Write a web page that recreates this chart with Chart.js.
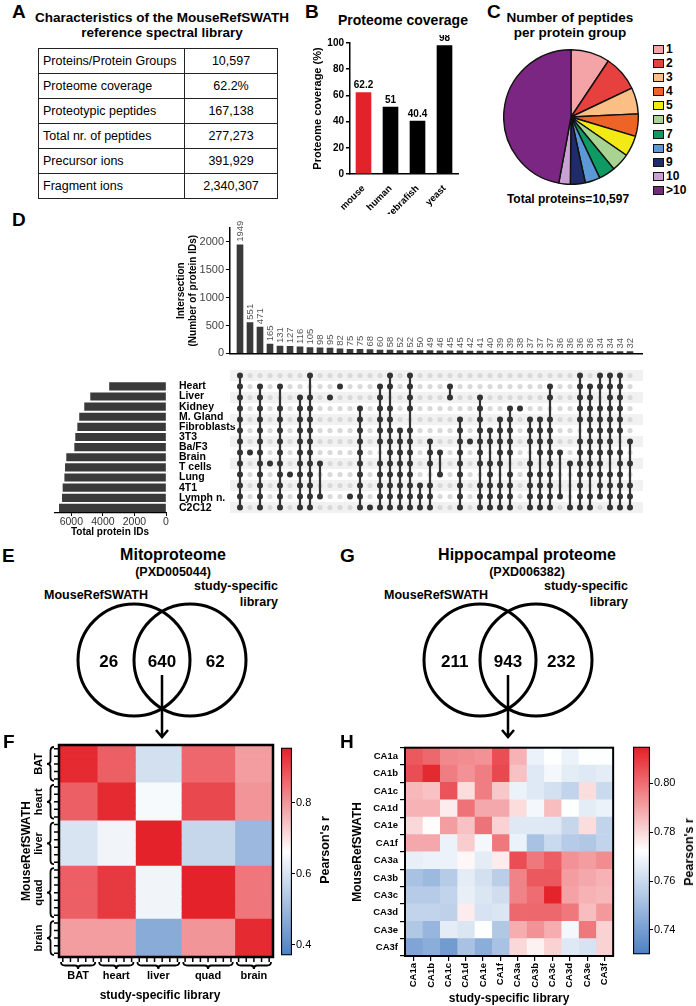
<!DOCTYPE html>
<html>
<head>
<meta charset="utf-8">
<script src="https://cdn.jsdelivr.net/npm/chart.js@4.4.1/dist/chart.umd.min.js"></script>
<style>
  body { margin: 0; background: #fff; font-family: "Liberation Sans", Arial, sans-serif; color: #000; }
  #page { position: relative; width: 696px; height: 1006px; overflow: hidden; }
  canvas { position: absolute; }
  .letter { position: absolute; font-weight: bold; font-size: 19px; line-height: 19px; }
  .ttl { position: absolute; font-weight: bold; text-align: center; white-space: nowrap; }
  .ctr { position: absolute; transform: translate(-50%, -50%); white-space: nowrap; font-weight: bold; }
  .rot { position: absolute; transform: translate(-50%, -50%) rotate(-90deg); white-space: nowrap; font-weight: bold; }
  #libTable { position: absolute; left: 38px; top: 48px; width: 240px; border-collapse: collapse; font-size: 12.5px; }
  #libTable td { border: 1.5px solid #222; height: 24px; padding: 0 4px; }
  #libTable td.v { text-align: center; width: 84px; }
  #pieLegend { position: absolute; left: 653px; top: 42px; font-weight: bold; font-size: 12px; }
  #pieLegend div { height: 14.1px; line-height: 14.1px; white-space: nowrap; }
  #pieLegend span { display: inline-block; width: 9px; height: 7px; border: 1.5px solid #111; margin-right: 2px; vertical-align: -1px; }
</style>
</head>
<body>
<div id="page">
  <!-- A -->
  <div class="letter" style="left:12px; top:2px;">A</div>
  <div class="ttl" style="left:30px; width:264px; top:10px; font-size:13.5px; line-height:15px;">Characteristics of the MouseRefSWATH<br>reference spectral library</div>
  <table id="libTable"></table>

  <!-- B -->
  <div class="letter" style="left:305px; top:2px;">B</div>
  <div class="ttl" style="left:333px; width:140px; top:12px; font-size:14px;">Proteome coverage</div>
  <canvas id="cvB" width="151" height="179" style="left:311px; top:35px;"></canvas>

  <!-- C -->
  <div class="letter" style="left:487px; top:2px;">C</div>
  <div class="ttl" style="left:490px; width:160px; top:10px; font-size:13.5px; line-height:15px;">Number of peptides<br>per protein group</div>
  <canvas id="cvC" width="136" height="136" style="left:503px; top:49px;"></canvas>
  <div id="pieLegend"></div>
  <div class="ctr" style="left:568px; top:199px; font-size:12px;">Total proteins=10,597</div>

  <!-- D -->
  <div class="letter" style="left:12px; top:210px;">D</div>
  <canvas id="cvDtop" width="468" height="147" style="left:175px; top:215px;"></canvas>
  <canvas id="cvDleft" width="182" height="168" style="left:54px; top:370px;"></canvas>
  <canvas id="cvDmat" width="413" height="143" style="left:230px; top:370px;"></canvas>

  <!-- E -->
  <div class="letter" style="left:2px; top:546px;">E</div>
  <div class="ctr" style="left:173px; top:555px; font-size:16px;">Mitoproteome</div>
  <div class="ctr" style="left:173px; top:572px; font-size:12.5px;">(PXD005044)</div>
  <div class="ctr" style="left:96px; top:595px; font-size:12.5px;">MouseRefSWATH</div>
  <div class="ttl" style="left:178px; width:100px; top:578px; font-size:12.5px; line-height:16px; text-align:right;">study-specific<br>library</div>
  <canvas id="cvE" width="324" height="142" style="left:0px; top:598px;"></canvas>

  <!-- G -->
  <div class="letter" style="left:340px; top:546px;">G</div>
  <div class="ctr" style="left:527px; top:555px; font-size:16px;">Hippocampal proteome</div>
  <div class="ctr" style="left:527px; top:572px; font-size:12.5px;">(PXD006382)</div>
  <div class="ctr" style="left:436px; top:595px; font-size:12.5px;">MouseRefSWATH</div>
  <div class="ttl" style="left:528px; width:100px; top:578px; font-size:12.5px; line-height:16px; text-align:right;">study-specific<br>library</div>
  <canvas id="cvG" width="324" height="142" style="left:346px; top:598px;"></canvas>

  <!-- F -->
  <canvas id="cvF" width="279" height="267" style="left:0px; top:739px;"></canvas>
  <canvas id="cvFbar" width="42" height="223" style="left:280px; top:740px;"></canvas>
  <div class="rot" style="left:325px; top:850px; font-size:12.5px;">Pearson's r</div>
  <div class="letter" style="left:3px; top:732px;">F</div>

  <!-- H -->
  <canvas id="cvH" width="268" height="266" style="left:350px; top:740px;"></canvas>
  <canvas id="cvHbar" width="53" height="223" style="left:632px; top:739px;"></canvas>
  <div class="rot" style="left:689px; top:852px; font-size:12.5px;">Pearson's r</div>
  <div class="letter" style="left:340px; top:732px;">H</div>
</div>

<script>
// ---------------- data ----------------
// A: library table
const libRows = ['Proteins/Protein Groups', 'Proteome coverage', 'Proteotypic peptides',
                 'Total nr. of peptides', 'Precursor ions', 'Fragment ions'];
const libValues = ['10,597', '62.2%', '167,138', '277,273', '391,929', '2,340,307'];

// B: proteome coverage
const speciesLabels = ['mouse', 'human', 'zebrafish', 'yeast'];
const coverageValues = [62.2, 51, 40.4, 98];
const coverageColors = ['#e3232a', '#000000', '#000000', '#000000'];

// C: peptides per protein group
const peptideLabels = ['1', '2', '3', '4', '5', '6', '7', '8', '9', '10', '>10'];
const peptideCounts = [992, 912, 668, 568, 530, 465, 421, 380, 380, 291, 4990];
const peptideColors = ['#f4a3a6', '#e6403f', '#fbbf86', '#ee6427', '#f3ea15', '#a9d391',
                       '#0f9a63', '#5c98d6', '#202c68', '#c9a1d4', '#7a2682'];

// D: upset plot
const cellTypes = ['Heart', 'Liver', 'Kidney', 'M. Gland', 'Fibroblasts', '3T3', 'Ba/F3',
                   'Brain', 'T cells', 'Lung', '4T1', 'Lymph n.', 'C2C12'];
const totalIDs = [3580, 4780, 5160, 5480, 5600, 5730, 5790, 6300, 6380, 6420, 6530, 6570, 6760];
const totalTicks = [0, 2000, 4000, 6000];
const intersectionSizes = [1949, 551, 471, 165, 131, 127, 116, 105, 98, 95, 82, 75, 75, 68, 60, 58,
                           52, 52, 50, 49, 46, 45, 45, 42, 41, 40, 39, 39, 38, 37, 37, 37, 36, 36,
                           36, 36, 34, 34, 34, 32];
const intersectionTicks = [0, 500, 1000, 1500, 2000];
// row indices (into cellTypes) that belong to each intersection
const intersectionSets = [
  [0,1,2,3,4,5,6,7,8,9,10,11,12], [7], [1,2,3,4,5,6,7,8,9,10,11,12], [8],
  [1,3,4,5,6,7,8,9,10,11,12], [9], [2,3,4,5,6,7,8,9,10,11,12], [0,2,3,4,5,6,7,8,9,10,11,12],
  [8,11], [2], [1], [11], [3,4,5,6,7,8,9,10,11,12], [12], [1,2,3,4,5,6,8,9,10,11,12],
  [0,1,3,4,5,6,7,8,9,10,11,12], [5,6,7,8,9,10,11,12], [0,1,2,3,5,6,7,8,9,10,11,12],
  [10,11,12], [6,7,8,10,11,12], [7,9], [1,2], [4,5,6,7,8,9,10,11,12], [6],
  [2,3,4,5,6,7,8,10,11,12], [5,6,8,9,10,11,12], [4,5,6,7,8,10,11,12], [3,4,5,6,7,9,10,11,12],
  [3], [4,5,6,8,9,10,11,12], [4,5,6,7,9,10,11,12], [1,2,4,5,6,7,8,9,10,11,12], [7,11], [8,12],
  [0,1,2,3,4,6,7,8,9,10,11,12], [1,2,3,4,5,6,7,8,9,11,12], [0,1,3,4,5,6,7,8,9,10,11],
  [0,1,2,3,4,5,6,7,9,10,11,12], [0,1,2,3,4,5,7,8,9,10,11,12], [6,8,10,11,12]
];

// E, G: Venn counts (left only, shared, right only)
const mitoCounts = [26, 640, 62];
const hippoCounts = [211, 943, 232];

// F: mitoproteome correlation, by tissue block
const fGroups = ['BAT', 'heart', 'liver', 'quad', 'brain'];
const fGroupSizes = [5, 5, 6, 7, 5];
const fBlocks = [
  [0.94, 0.87, 0.59, 0.86, 0.79],
  [0.87, 0.94, 0.65, 0.90, 0.80],
  [0.60, 0.64, 0.95, 0.57, 0.50],
  [0.87, 0.92, 0.64, 0.95, 0.84],
  [0.79, 0.79, 0.47, 0.80, 0.94]
];
const fMin = 0.37, fMax = 0.955;

// H: hippocampal correlation
const hLabels = ['CA1a', 'CA1b', 'CA1c', 'CA1d', 'CA1e', 'CA1f', 'CA3a', 'CA3b', 'CA3c', 'CA3d', 'CA3e', 'CA3f'];
const hValues = [
  [0.804, 0.801, 0.795, 0.794, 0.793, 0.806, 0.787, 0.768, 0.772, 0.768, 0.772, 0.772],
  [0.806, 0.813, 0.797, 0.793, 0.797, 0.807, 0.784, 0.765, 0.770, 0.766, 0.765, 0.766],
  [0.786, 0.784, 0.805, 0.779, 0.797, 0.783, 0.768, 0.765, 0.762, 0.758, 0.779, 0.760],
  [0.787, 0.787, 0.776, 0.799, 0.789, 0.789, 0.779, 0.770, 0.785, 0.772, 0.766, 0.768],
  [0.780, 0.773, 0.791, 0.784, 0.799, 0.781, 0.765, 0.765, 0.765, 0.759, 0.779, 0.758],
  [0.789, 0.789, 0.768, 0.782, 0.770, 0.798, 0.768, 0.752, 0.760, 0.755, 0.754, 0.758],
  [0.767, 0.768, 0.768, 0.774, 0.766, 0.776, 0.806, 0.798, 0.803, 0.793, 0.791, 0.794],
  [0.752, 0.749, 0.755, 0.766, 0.762, 0.756, 0.796, 0.804, 0.804, 0.791, 0.789, 0.787],
  [0.755, 0.755, 0.758, 0.767, 0.764, 0.761, 0.796, 0.800, 0.814, 0.790, 0.787, 0.786],
  [0.758, 0.758, 0.757, 0.776, 0.763, 0.764, 0.801, 0.801, 0.801, 0.798, 0.785, 0.792],
  [0.754, 0.748, 0.766, 0.764, 0.772, 0.754, 0.788, 0.793, 0.788, 0.770, 0.798, 0.781],
  [0.742, 0.745, 0.739, 0.752, 0.745, 0.752, 0.780, 0.775, 0.781, 0.765, 0.763, 0.781]
];
const hMin = 0.730, hMax = 0.815;

// ---------------- helpers ----------------
Chart.defaults.font.family = "'Liberation Sans', Arial, sans-serif";
Chart.defaults.color = '#000';
Chart.defaults.animation = false;
Chart.defaults.responsive = false;
Chart.defaults.plugins.legend.display = false;
Chart.defaults.plugins.tooltip.enabled = false;

const RED = [228, 30, 38], BLUE = [76, 128, 196];
function divColor(v, lo, hi) {
  let t = (v - (lo + hi) / 2) / ((hi - lo) / 2);
  t = Math.max(-1, Math.min(1, t));
  const end = t >= 0 ? RED : BLUE;
  const a = Math.abs(t);
  const c = end.map(e => Math.round(255 + (e - 255) * a));
  return 'rgb(' + c.join(',') + ')';
}

// A: table
document.getElementById('libTable').innerHTML =
  libRows.map((r, i) => '<tr><td>' + r + '</td><td class="v">' + libValues[i] + '</td></tr>').join('');

// C: legend
document.getElementById('pieLegend').innerHTML =
  peptideLabels.map((l, i) => '<div><span style="background:' + peptideColors[i] + '"></span>' + l + '</div>').join('');

// ---------------- B ----------------
const barValueLabels = {
  id: 'barValueLabels',
  afterDatasetsDraw(chart) {
    const ctx = chart.ctx;
    ctx.save();
    ctx.font = "bold 10px 'Liberation Sans', Arial";
    ctx.fillStyle = '#000';
    ctx.textAlign = 'center';
    ctx.textBaseline = 'bottom';
    chart.getDatasetMeta(0).data.forEach((bar, i) => {
      ctx.fillText(String(coverageValues[i]), bar.x, bar.y - 2);
    });
    ctx.restore();
  }
};

new Chart(document.getElementById('cvB'), {
  type: 'bar',
  data: {
    labels: speciesLabels,
    datasets: [{ data: coverageValues, backgroundColor: coverageColors, barThickness: 15 }]
  },
  options: {
    layout: { padding: { top: 6, right: 4 } },
    scales: {
      x: {
        grid: { display: false },
        border: { color: '#000', width: 1.5 },
        ticks: { minRotation: 45, maxRotation: 45, font: { size: 9.5, weight: 'bold' }, padding: 1 },
        afterFit: s => { s.height = 40; }
      },
      y: {
        min: 0, max: 100,
        ticks: { stepSize: 20, font: { size: 10, weight: 'bold' }, padding: 2 },
        grid: { drawOnChartArea: false, tickLength: 4, color: '#000', lineWidth: 1.5 },
        border: { color: '#000', width: 1.5 },
        title: { display: true, text: 'Proteome coverage (%)', font: { size: 11, weight: 'bold' }, padding: 0 },
        afterFit: s => { s.width = 39; }
      }
    }
  },
  plugins: [barValueLabels]
});

// ---------------- C ----------------
new Chart(document.getElementById('cvC'), {
  type: 'pie',
  data: {
    labels: peptideLabels,
    datasets: [{ data: peptideCounts, backgroundColor: peptideColors, borderColor: '#111', borderWidth: 1.4 }]
  },
  options: { layout: { padding: 0 } }
});

// ---------------- D: intersection bars ----------------
const intersectionLabels = {
  id: 'intersectionLabels',
  afterDatasetsDraw(chart) {
    const ctx = chart.ctx;
    ctx.save();
    ctx.font = "9.5px 'Liberation Sans', Arial";
    ctx.fillStyle = '#555';
    ctx.textAlign = 'left';
    ctx.textBaseline = 'middle';
    chart.getDatasetMeta(0).data.forEach((bar, i) => {
      ctx.save();
      ctx.translate(bar.x, bar.y - 3);
      ctx.rotate(-Math.PI / 2);
      ctx.fillText(String(intersectionSizes[i]), 0, 0);
      ctx.restore();
    });
    ctx.restore();
  }
};

new Chart(document.getElementById('cvDtop'), {
  type: 'bar',
  data: {
    datasets: [{
      data: intersectionSizes.map((v, i) => ({ x: i + 1, y: v })),
      backgroundColor: '#3a3a3a', barThickness: 6
    }]
  },
  options: {
    layout: { padding: { top: 13, bottom: 1 } },
    scales: {
      x: {
        type: 'linear', min: 0, max: 41.3, offset: false,
        grid: { display: false }, ticks: { display: false },
        border: { color: '#000', width: 1.5 },
        afterFit: s => { s.height = 2; }
      },
      y: {
        min: 0, max: 2250,
        afterBuildTicks: s => { s.ticks = intersectionTicks.map(v => ({ value: v })); },
        ticks: { font: { size: 11 }, color: '#444', padding: 2, callback: v => String(v) },
        grid: { drawOnChartArea: false, tickLength: 4, color: '#000' },
        border: { color: '#000', width: 1.5 },
        title: { display: true, text: ['Intersection', '(Number of protein IDs)'], font: { size: 10, weight: 'bold' }, padding: 0 },
        afterFit: s => { s.width = 55; }
      }
    }
  },
  plugins: [intersectionLabels]
});

// ---------------- D: set size bars ----------------
new Chart(document.getElementById('cvDleft'), {
  type: 'bar',
  data: {
    labels: cellTypes,
    datasets: [{ data: totalIDs, backgroundColor: '#3a3a3a', barThickness: 7.5 }]
  },
  options: {
    indexAxis: 'y',
    scales: {
      x: {
        reverse: true, min: 0, max: 7100,
        afterBuildTicks: s => { s.ticks = totalTicks.map(v => ({ value: v })); },
        ticks: { font: { size: 10.5 }, color: '#333', padding: 0, maxRotation: 0, callback: v => String(v) },
        grid: { drawOnChartArea: false, tickLength: 3, color: '#000' },
        border: { color: '#000', width: 1.2 },
        title: { display: true, text: 'Total protein IDs', font: { size: 10, weight: 'bold' }, padding: 0 },
        afterFit: s => { s.height = 25; }
      },
      y: {
        position: 'right',
        grid: { display: false }, border: { display: false },
        ticks: { font: { size: 10.5, weight: 'bold' }, padding: 5, autoSkip: false },
        afterFit: s => { s.width = 70; }
      }
    }
  }
});

// ---------------- D: membership matrix ----------------
const rowBands = {
  id: 'rowBands',
  beforeDatasetsDraw(chart) {
    const { ctx, chartArea: a, scales: { y } } = chart;
    ctx.save();
    ctx.fillStyle = '#f1f1f1';
    cellTypes.forEach((c, r) => {
      if (r % 2 === 0) {
        const t = y.getPixelForValue(r - 0.5), b = y.getPixelForValue(r + 0.5);
        ctx.fillRect(a.left, t, a.right - a.left, b - t);
      }
    });
    ctx.restore();
  }
};

const gridDots = [], memberDots = [], memberLinks = [];
intersectionSets.forEach((set, c) => {
  cellTypes.forEach((t, r) => gridDots.push({ x: c + 1, y: r }));
  set.forEach(r => memberDots.push({ x: c + 1, y: r }));
  memberLinks.push({ x: c + 1, y: Math.min(...set) }, { x: c + 1, y: Math.max(...set) }, { x: c + 1, y: null });
});

new Chart(document.getElementById('cvDmat'), {
  type: 'scatter',
  data: {
    datasets: [
      { data: memberDots, pointRadius: 3, backgroundColor: '#333', borderWidth: 0, order: 1 },
      { data: memberLinks, showLine: true, spanGaps: false, pointRadius: 0, borderColor: '#333', borderWidth: 2.2, order: 2 },
      { data: gridDots, pointRadius: 2.6, backgroundColor: '#d9d9d9', borderWidth: 0, order: 3 }
    ]
  },
  options: {
    layout: { autoPadding: false, padding: 0 },
    scales: {
      x: { type: 'linear', min: 0, max: 41.3, display: false },
      y: { type: 'linear', min: -0.5, max: 12.5, reverse: true, display: false }
    }
  },
  plugins: [rowBands]
});

// ---------------- E, G: Venn ----------------
const vennSetX = [-0.5, 0.5];
const vennRegionX = [-0.95, 0, 0.95];
function drawVenn(id, counts) {
  const vennText = {
    id: 'vennText',
    afterDatasetsDraw(chart) {
      const { ctx, scales: { x, y } } = chart;
      ctx.save();
      ctx.font = "bold 17px 'Liberation Sans', Arial";
      ctx.fillStyle = '#000';
      ctx.textAlign = 'center';
      ctx.textBaseline = 'middle';
      counts.forEach((n, i) => ctx.fillText(String(n), x.getPixelForValue(vennRegionX[i]), y.getPixelForValue(-0.05)));
      // arrow from the shared region down to the heatmap
      const ax = x.getPixelForValue(0), y0 = y.getPixelForValue(-0.27), y1 = chart.height - 3;
      ctx.strokeStyle = '#000';
      ctx.lineWidth = 2.5;
      ctx.beginPath();
      ctx.moveTo(ax, y0); ctx.lineTo(ax, y1);
      ctx.moveTo(ax - 6, y1 - 7); ctx.lineTo(ax, y1); ctx.lineTo(ax + 6, y1 - 7);
      ctx.stroke();
      ctx.restore();
    }
  };
  new Chart(document.getElementById(id), {
    type: 'scatter',
    data: {
      datasets: [{
        data: vennSetX.map(v => ({ x: v, y: 0 })),
        pointRadius: 56, pointBorderWidth: 3, borderColor: '#000', backgroundColor: 'rgba(0,0,0,0)', clip: false
      }]
    },
    options: {
      layout: { autoPadding: false, padding: 0 },
      scales: {
        x: { type: 'linear', min: -2.893, max: 2.893, display: false },
        y: { type: 'linear', min: -1.4286, max: 1.107, display: false }
      }
    },
    plugins: [vennText]
  });
}
drawVenn('cvE', mitoCounts);
drawVenn('cvG', hippoCounts);

// ---------------- colour bars ----------------
function colorBar(id, lo, hi, step, digits, width) {
  new Chart(document.getElementById(id), {
    type: 'bar',
    data: {
      labels: ['r'],
      datasets: [{
        data: [[lo, hi]],
        backgroundColor: c => {
          const a = c.chart.chartArea;
          if (!a) return '#fff';
          const g = c.chart.ctx.createLinearGradient(0, a.top, 0, a.bottom);
          g.addColorStop(0, 'rgb(' + RED.join(',') + ')');
          g.addColorStop(0.5, '#fff');
          g.addColorStop(1, 'rgb(' + BLUE.join(',') + ')');
          return g;
        },
        borderColor: '#000', borderWidth: 1.5, borderSkipped: false,
        barPercentage: 1, categoryPercentage: 1
      }]
    },
    options: {
      layout: { padding: { left: 1, top: 6, bottom: 6, right: 0 } },
      scales: {
        x: { display: false },
        y: {
          position: 'right', min: lo, max: hi,
          ticks: { stepSize: step, includeBounds: false, font: { size: 11 }, padding: 1, callback: v => v.toFixed(digits) },
          grid: { drawOnChartArea: false, tickLength: 3, color: '#000' },
          border: { display: false },
          afterFit: s => { s.width = width; }
        }
      }
    }
  });
}
colorBar('cvFbar', fMin, fMax, 0.2, 1, 30);
colorBar('cvHbar', hMin, hMax, 0.02, 2, 35);

// ---------------- F: block heatmap ----------------
const fRowGroup = [];
fGroupSizes.forEach((n, g) => { for (let k = 0; k < n; k++) fRowGroup.push(g); });

const fDecor = {
  id: 'fDecor',
  afterDraw(chart) {
    const { ctx, chartArea: a, scales: { x } } = chart;
    const rowH = (a.bottom - a.top) / fRowGroup.length;
    ctx.save();
    ctx.strokeStyle = '#000';
    // frame
    ctx.lineWidth = 2.5;
    ctx.strokeRect(a.left, a.top, a.right - a.left, a.bottom - a.top);
    // sample ticks
    ctx.lineWidth = 1.5;
    ctx.beginPath();
    fRowGroup.forEach((g, i) => {
      const yy = a.top + (i + 0.5) * rowH, xx = x.getPixelForValue(i + 0.5);
      ctx.moveTo(a.left - 5, yy); ctx.lineTo(a.left - 1, yy);
      ctx.moveTo(xx, a.bottom + 1); ctx.lineTo(xx, a.bottom + 5);
    });
    ctx.stroke();
    // braces + group labels
    ctx.lineWidth = 1.8;
    ctx.font = "bold 11px 'Liberation Sans', Arial";
    ctx.fillStyle = '#000';
    ctx.textAlign = 'center';
    ctx.textBaseline = 'middle';
    let cum = 0;
    fGroups.forEach((name, g) => {
      const s = cum, e = cum + fGroupSizes[g];
      cum = e;
      // left brace
      const y1 = a.top + s * rowH + 2, y2 = a.top + e * rowH - 2, ym = (y1 + y2) / 2;
      const xr = a.left - 5, xm = a.left - 8.5, xl = a.left - 12;
      ctx.beginPath();
      ctx.moveTo(xr, y1); ctx.quadraticCurveTo(xm, y1, xm, y1 + 4);
      ctx.lineTo(xm, ym - 3); ctx.quadraticCurveTo(xm, ym, xl, ym);
      ctx.quadraticCurveTo(xm, ym, xm, ym + 3);
      ctx.lineTo(xm, y2 - 4); ctx.quadraticCurveTo(xm, y2, xr, y2);
      ctx.stroke();
      ctx.save();
      ctx.translate(a.left - 20, ym);
      ctx.rotate(-Math.PI / 2);
      ctx.fillText(name, 0, 0);
      ctx.restore();
      // bottom brace
      const x1 = x.getPixelForValue(s) + 2, x2 = x.getPixelForValue(e) - 2, xc = (x1 + x2) / 2;
      const yt = a.bottom + 5, yb2 = a.bottom + 8.5, yp = a.bottom + 12;
      ctx.beginPath();
      ctx.moveTo(x1, yt); ctx.quadraticCurveTo(x1, yb2, x1 + 4, yb2);
      ctx.lineTo(xc - 3, yb2); ctx.quadraticCurveTo(xc, yb2, xc, yp);
      ctx.quadraticCurveTo(xc, yb2, xc + 3, yb2);
      ctx.lineTo(x2 - 4, yb2); ctx.quadraticCurveTo(x2, yb2, x2, yt);
      ctx.stroke();
      ctx.fillText(name, xc, a.bottom + 19);
    });
    // axis titles
    ctx.font = "bold 12px 'Liberation Sans', Arial";
    ctx.fillText('study-specific library', (a.left + a.right) / 2 - 6, a.bottom + 39);
    ctx.save();
    ctx.translate(a.left - 32, (a.top + a.bottom) / 2);
    ctx.rotate(-Math.PI / 2);
    ctx.fillText('MouseRefSWATH', 0, 0);
    ctx.restore();
    ctx.restore();
  }
};

new Chart(document.getElementById('cvF'), {
  type: 'bar',
  data: {
    labels: fRowGroup.map((g, i) => fGroups[g] + ' ' + i),
    datasets: fGroups.map((name, j) => ({
      data: fRowGroup.map(() => fGroupSizes[j]),
      backgroundColor: fRowGroup.map(g => divColor(fBlocks[g][j], fMin, fMax)),
      borderWidth: 0, barPercentage: 1, categoryPercentage: 1
    }))
  },
  options: {
    indexAxis: 'y',
    layout: { padding: { left: 59, top: 6, right: 6, bottom: 49 } },
    scales: {
      x: { type: 'linear', stacked: true, min: 0, max: 28, display: false },
      y: { stacked: true, display: false }
    }
  },
  plugins: [fDecor]
});

// ---------------- H: heatmap ----------------
const frame = {
  id: 'frame',
  afterDraw(chart) {
    const { ctx, chartArea: a } = chart;
    ctx.save();
    ctx.strokeStyle = '#000';
    ctx.lineWidth = 2;
    ctx.strokeRect(a.left, a.top, a.right - a.left, a.bottom - a.top);
    ctx.restore();
  }
};

new Chart(document.getElementById('cvH'), {
  type: 'bar',
  data: {
    labels: hLabels,
    datasets: hLabels.map((c, j) => ({
      data: hLabels.map(() => 1),
      backgroundColor: hValues.map(row => divColor(row[j], hMin, hMax)),
      borderWidth: 0, barPercentage: 1, categoryPercentage: 1
    }))
  },
  options: {
    indexAxis: 'y',
    layout: { padding: { top: 5, right: 3 } },
    scales: {
      x: {
        type: 'linear', stacked: true, min: 0, max: 12,
        afterBuildTicks: s => { s.ticks = hLabels.map((l, i) => ({ value: i + 0.5 })); },
        ticks: { callback: (v, i) => hLabels[i], minRotation: 90, maxRotation: 90, autoSkip: false, font: { size: 9.5, weight: 'bold' }, padding: 2 },
        grid: { drawOnChartArea: false, tickLength: 5, color: '#000', lineWidth: 1.2 },
        border: { display: false },
        title: { display: true, text: 'study-specific library', font: { size: 12, weight: 'bold' }, padding: 0 },
        afterFit: s => { s.height = 50; }
      },
      y: {
        stacked: true,
        ticks: { font: { size: 9.5, weight: 'bold' }, padding: 2, autoSkip: false },
        grid: { drawOnChartArea: false, tickLength: 5, color: '#000', lineWidth: 1.2 },
        border: { display: false },
        title: { display: true, text: 'MouseRefSWATH', font: { size: 12, weight: 'bold' }, padding: 0 },
        afterFit: s => { s.width = 55; }
      }
    }
  },
  plugins: [frame]
});
</script>
</body>
</html>
